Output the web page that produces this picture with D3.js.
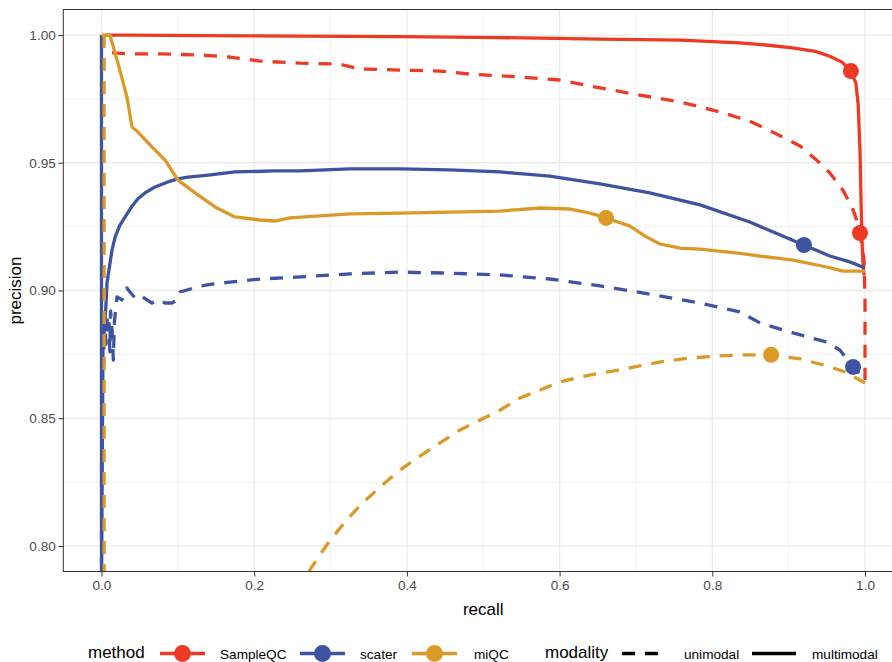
<!DOCTYPE html>
<html>
<head>
<meta charset="utf-8">
<script src="https://cdn.jsdelivr.net/npm/d3@7"></script>
<style>
  body { margin: 0; background: #fff; }
  svg { display: block; font-family: "Liberation Sans", Arial, Helvetica, sans-serif; }
</style>
</head>
<body>
<svg id="chart" width="892" height="662"></svg>
<script>
// ---- data -------------------------------------------------------------
const methods = ["SampleQC", "scater", "miQC"];
const modalities = ["unimodal", "multimodal"];
const xTicks = [0, 0.2, 0.4, 0.6, 0.8, 1.0];
const yTicks = [0.80, 0.85, 0.90, 0.95, 1.00];

// precision-recall curves, [recall, precision]
const sampleqcMultimodal = [
  [0.005, 1.000], [0.037, 1.000], [0.129, 0.9998], [0.26, 0.9996], [0.391, 0.9994],
  [0.522, 0.9990], [0.653, 0.9984], [0.758, 0.9980], [0.836, 0.9969], [0.870, 0.9961],
  [0.905, 0.9950], [0.935, 0.9936], [0.953, 0.9918], [0.970, 0.9894], [0.9815, 0.9859],
  [0.988, 0.9812], [0.991, 0.9730], [0.9934, 0.9550], [0.9948, 0.9354], [0.996, 0.9198],
  [0.9975, 0.9100], [0.9987, 0.9060]
];
const sampleqcUnimodal = [
  [0.0138, 0.9930], [0.037, 0.9926], [0.077, 0.9926], [0.129, 0.9922], [0.168, 0.9914],
  [0.208, 0.9898], [0.26, 0.9890], [0.312, 0.9886], [0.339, 0.9867], [0.391, 0.9863],
  [0.443, 0.9859], [0.483, 0.9847], [0.548, 0.9836], [0.600, 0.9824], [0.653, 0.9793],
  [0.705, 0.9765], [0.758, 0.9738], [0.810, 0.9699], [0.849, 0.9663], [0.882, 0.9616],
  [0.915, 0.9566], [0.941, 0.9499], [0.954, 0.9460], [0.971, 0.9393], [0.983, 0.9327],
  [0.989, 0.9276], [0.9934, 0.9225], [0.9987, 0.9119], [1.0, 0.8963], [1.0, 0.8650]
];
const scaterMultimodal = [
  [0.0, 1.0], [0.0, 0.78], [0.002, 0.880], [0.004, 0.886], [0.006, 0.895], [0.0072, 0.9029],
  [0.0138, 0.9159], [0.018, 0.9210], [0.024, 0.9255], [0.031, 0.9288], [0.040, 0.9330],
  [0.048, 0.9360], [0.057, 0.9382], [0.070, 0.9405], [0.087, 0.9425], [0.100, 0.9437],
  [0.113, 0.9444], [0.140, 0.9452], [0.175, 0.9464], [0.227, 0.9468], [0.26, 0.9468],
  [0.325, 0.9476], [0.391, 0.9476], [0.456, 0.9472], [0.522, 0.9464], [0.587, 0.9448],
  [0.653, 0.9417], [0.718, 0.9382], [0.784, 0.9335], [0.849, 0.9268], [0.889, 0.9217],
  [0.920, 0.9178], [0.954, 0.9135], [0.980, 0.9112], [1.0, 0.9088]
];
const scaterUnimodal = [
  [0.002, 0.884], [0.003, 0.876], [0.004, 0.889], [0.006, 0.879], [0.007, 0.891],
  [0.008, 0.882], [0.010, 0.887], [0.011, 0.876], [0.012, 0.892], [0.014, 0.884],
  [0.0155, 0.8728], [0.017, 0.888], [0.0203, 0.8975], [0.0268, 0.8963], [0.0334, 0.9010],
  [0.0373, 0.8994], [0.0439, 0.8971], [0.0504, 0.8982], [0.0596, 0.8963], [0.0661, 0.8951],
  [0.074, 0.8963], [0.0832, 0.8951], [0.0923, 0.8951], [0.0989, 0.8963], [0.1028, 0.8994],
  [0.112, 0.9002], [0.1251, 0.9014], [0.1382, 0.9022], [0.168, 0.9033], [0.208, 0.9045],
  [0.26, 0.9053], [0.325, 0.9065], [0.391, 0.9072], [0.456, 0.9068], [0.522, 0.9061],
  [0.587, 0.9045], [0.653, 0.9018], [0.718, 0.8986], [0.784, 0.8951], [0.836, 0.8916],
  [0.8625, 0.8873], [0.9057, 0.8834], [0.950, 0.8798], [0.967, 0.8767], [0.9843, 0.8701],
  [1.0, 0.8654]
];
const miqcMultimodal = [
  [0.0, 1.0], [0.011, 1.0], [0.0216, 0.9890], [0.0334, 0.9757], [0.040, 0.9640],
  [0.0478, 0.9620], [0.0661, 0.9562], [0.0832, 0.9511], [0.1002, 0.9432], [0.1225, 0.9382],
  [0.1487, 0.9327], [0.1749, 0.9288], [0.2076, 0.9276], [0.2272, 0.9272], [0.2469, 0.9284],
  [0.2862, 0.9292], [0.3255, 0.9300], [0.391, 0.9303], [0.4565, 0.9307], [0.522, 0.9311],
  [0.5744, 0.9323], [0.6137, 0.9319], [0.6399, 0.9303], [0.6608, 0.9284], [0.6922, 0.9252],
  [0.7119, 0.9213], [0.7315, 0.9182], [0.7577, 0.9166], [0.7839, 0.9162], [0.8363, 0.9145],
  [0.8625, 0.9135], [0.9057, 0.9119], [0.950, 0.9092], [0.971, 0.9076], [1.0, 0.9076]
];
const miqcUnimodal = [
  [0.0035, 1.0], [0.0035, 0.78], [0.255, 0.78], [0.273, 0.7906], [0.286, 0.7965],
  [0.299, 0.8020], [0.319, 0.8094], [0.339, 0.8160], [0.365, 0.8231], [0.391, 0.8297],
  [0.417, 0.8352], [0.443, 0.8403], [0.4695, 0.8454], [0.496, 0.8493], [0.522, 0.8532],
  [0.548, 0.8579], [0.574, 0.8610], [0.600, 0.8642], [0.626, 0.8661], [0.653, 0.8677],
  [0.679, 0.8689], [0.705, 0.8705], [0.731, 0.8720], [0.771, 0.8736], [0.810, 0.8744],
  [0.843, 0.8748], [0.877, 0.8748], [0.915, 0.8732], [0.950, 0.8705], [0.974, 0.8681],
  [1.0, 0.8638]
];

// chosen operating point on each curve, [recall, precision]
const sampleqcMultimodalPoint = [0.9815, 0.9859];
const sampleqcUnimodalPoint = [0.9934, 0.9225];
const scaterMultimodalPoint = [0.920, 0.9178];
const scaterUnimodalPoint = [0.9843, 0.8701];
const miqcMultimodalPoint = [0.6608, 0.9284];
const miqcUnimodalPoint = [0.877, 0.8748];

// ---- styling ----------------------------------------------------------
const colors = { SampleQC: "#EE3A24", scater: "#3E54A3", miQC: "#DB9A28" };
const dash = { unimodal: "13,10", multimodal: null };
const lineWidth = 3.3;

const curves = [
  { method: "SampleQC", modality: "multimodal", values: sampleqcMultimodal, point: sampleqcMultimodalPoint },
  { method: "SampleQC", modality: "unimodal",   values: sampleqcUnimodal,   point: sampleqcUnimodalPoint },
  { method: "scater",   modality: "multimodal", values: scaterMultimodal,   point: scaterMultimodalPoint },
  { method: "scater",   modality: "unimodal",   values: scaterUnimodal,     point: scaterUnimodalPoint },
  { method: "miQC",     modality: "multimodal", values: miqcMultimodal,     point: miqcMultimodalPoint },
  { method: "miQC",     modality: "unimodal",   values: miqcUnimodal,       point: miqcUnimodalPoint }
];

// ---- layout -----------------------------------------------------------
const svg = d3.select("#chart");
const panel = { left: 63.3, right: 903.2, top: 9.5, bottom: 571.5 };

const x = d3.scaleLinear().domain([-0.05, 1.05]).range([panel.left, panel.right]);
const y = d3.scaleLinear().domain([0.79, 1.01]).range([panel.bottom, panel.top]);

svg.append("defs").append("clipPath").attr("id", "panel-clip")
  .append("rect")
  .attr("x", panel.left).attr("y", panel.top)
  .attr("width", panel.right - panel.left).attr("height", panel.bottom - panel.top);

// grid: major at ticks, minor half-way between
const mid = arr => d3.pairs(arr).map(([a, b]) => (a + b) / 2);
const xMinor = mid(xTicks).concat([xTicks[xTicks.length - 1] + (xTicks[1] - xTicks[0]) / 2]);
const yMinor = mid(yTicks);

const grid = svg.append("g").attr("clip-path", "url(#panel-clip)");
grid.selectAll(".xminor").data(xMinor).join("line")
  .attr("x1", d => x(d)).attr("x2", d => x(d))
  .attr("y1", panel.top).attr("y2", panel.bottom)
  .attr("stroke", "#EFEFEF").attr("stroke-width", 0.8);
grid.selectAll(".yminor").data(yMinor).join("line")
  .attr("x1", panel.left).attr("x2", panel.right)
  .attr("y1", d => y(d)).attr("y2", d => y(d))
  .attr("stroke", "#EFEFEF").attr("stroke-width", 0.8);
grid.selectAll(".xmajor").data(xTicks).join("line")
  .attr("x1", d => x(d)).attr("x2", d => x(d))
  .attr("y1", panel.top).attr("y2", panel.bottom)
  .attr("stroke", "#EBEBEB").attr("stroke-width", 1.3);
grid.selectAll(".ymajor").data(yTicks).join("line")
  .attr("x1", panel.left).attr("x2", panel.right)
  .attr("y1", d => y(d)).attr("y2", d => y(d))
  .attr("stroke", "#EBEBEB").attr("stroke-width", 1.3);

// curves
const line = d3.line().x(d => x(d[0])).y(d => y(d[1]));
const plot = svg.append("g").attr("clip-path", "url(#panel-clip)");
plot.selectAll("path.curve").data(curves).join("path")
  .attr("class", "curve")
  .attr("d", d => line(d.values))
  .attr("fill", "none")
  .attr("stroke", d => colors[d.method])
  .attr("stroke-width", lineWidth)
  .attr("stroke-linejoin", "round")
  .attr("stroke-linecap", "butt")
  .attr("stroke-dasharray", d => dash[d.modality]);

plot.selectAll("circle.op").data(curves).join("circle")
  .attr("class", "op")
  .attr("cx", d => x(d.point[0]))
  .attr("cy", d => y(d.point[1]))
  .attr("r", 8)
  .attr("fill", d => colors[d.method]);

// panel border
svg.append("rect")
  .attr("x", panel.left).attr("y", panel.top)
  .attr("width", panel.right - panel.left).attr("height", panel.bottom - panel.top)
  .attr("fill", "none").attr("stroke", "#333333").attr("stroke-width", 1);

// axes
const styleAxis = g => {
  g.select(".domain").remove();
  g.selectAll(".tick line").attr("stroke", "#333333").attr("stroke-width", 1);
  g.selectAll(".tick text").attr("fill", "#4D4D4D").style("font-size", "13.6px")
    .style("font-family", "\"Liberation Sans\", Arial, sans-serif");
};
svg.append("g")
  .attr("transform", `translate(0,${panel.bottom})`)
  .call(d3.axisBottom(x).tickValues(xTicks).tickFormat(d3.format(".1f")).tickSize(5).tickPadding(4))
  .call(styleAxis);
svg.append("g")
  .attr("transform", `translate(${panel.left},0)`)
  .call(d3.axisLeft(y).tickValues(yTicks).tickFormat(d3.format(".2f")).tickSize(5).tickPadding(2.5))
  .call(styleAxis);

// axis titles
svg.append("text")
  .attr("x", (panel.left + panel.right) / 2).attr("y", 615)
  .attr("text-anchor", "middle").attr("fill", "#000").style("font-size", "17px")
  .text("recall");
svg.append("text")
  .attr("transform", `translate(20.5,${(panel.top + panel.bottom) / 2}) rotate(-90)`)
  .attr("text-anchor", "middle").attr("fill", "#000").style("font-size", "17px")
  .text("precision");

// ---- legend -----------------------------------------------------------
const legend = svg.append("g");
const keyY = 653.5, labelY = 658.5, titleY = 658;
legend.append("text").attr("x", 88).attr("y", titleY)
  .style("font-size", "17px").attr("fill", "#000").text("method");

const methodKeys = [
  { key: 160, label: 220 },
  { key: 300, label: 360 },
  { key: 412, label: 474 }
];
methods.forEach((m, i) => {
  const k = methodKeys[i];
  legend.append("line")
    .attr("x1", k.key).attr("x2", k.key + 45).attr("y1", keyY).attr("y2", keyY)
    .attr("stroke", colors[m]).attr("stroke-width", 3.6);
  legend.append("circle").attr("cx", k.key + 22.5).attr("cy", keyY).attr("r", 8.5)
    .attr("fill", colors[m]);
  legend.append("text").attr("x", k.label).attr("y", labelY)
    .style("font-size", "13.6px").attr("fill", "#000").text(m);
});

legend.append("text").attr("x", 545).attr("y", titleY)
  .style("font-size", "17px").attr("fill", "#000").text("modality");
const modalityKeys = [
  { key: 622, label: 684 },
  { key: 752, label: 812 }
];
modalities.forEach((m, i) => {
  const k = modalityKeys[i];
  legend.append("line")
    .attr("x1", k.key).attr("x2", k.key + 44).attr("y1", keyY).attr("y2", keyY)
    .attr("stroke", "#000").attr("stroke-width", 3.6)
    .attr("stroke-dasharray", dash[m]);
  legend.append("text").attr("x", k.label).attr("y", labelY)
    .style("font-size", "13.6px").attr("fill", "#000").text(m);
});
</script>
</body>
</html>
